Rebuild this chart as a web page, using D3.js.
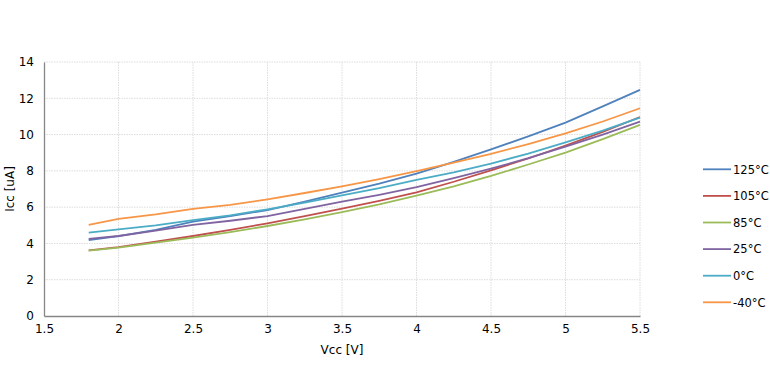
<!DOCTYPE html>
<html><head><meta charset="utf-8">
<script src="https://cdn.jsdelivr.net/npm/d3@7"></script>
<style>body{margin:0;background:#fff}svg{display:block}text{font-family:Tahoma,"DejaVu Sans",sans-serif}</style>
</head><body>
<script>
const vcc = [1.8, 2.0, 2.25, 2.5, 2.75, 3.0, 3.25, 3.5, 3.75, 4.0, 4.25, 4.5, 4.75, 5.0, 5.25, 5.5];
const seriesNames = ["125°C", "105°C", "85°C", "25°C", "0°C", "-40°C"];
const seriesColors = ["#4F81BD", "#C0504D", "#9BBB59", "#8064A2", "#4BACC6", "#F79646"];
const icc125 = [4.18, 4.40, 4.75, 5.20, 5.50, 5.84, 6.30, 6.80, 7.30, 7.85, 8.50, 9.18, 9.90, 10.66, 11.55, 12.46];
const icc105 = [3.62, 3.80, 4.10, 4.41, 4.75, 5.11, 5.50, 5.92, 6.35, 6.82, 7.40, 8.03, 8.68, 9.39, 10.15, 10.97];
const icc85  = [3.60, 3.77, 4.05, 4.32, 4.62, 4.96, 5.33, 5.73, 6.15, 6.63, 7.15, 7.72, 8.35, 9.00, 9.75, 10.53];
const icc25  = [4.25, 4.41, 4.70, 5.02, 5.25, 5.51, 5.90, 6.30, 6.68, 7.10, 7.60, 8.12, 8.70, 9.33, 10.00, 10.71];
const icc0   = [4.59, 4.78, 5.00, 5.29, 5.55, 5.88, 6.25, 6.65, 7.05, 7.50, 7.92, 8.40, 8.95, 9.57, 10.22, 10.93];
const iccM40 = [5.02, 5.35, 5.60, 5.90, 6.12, 6.43, 6.78, 7.15, 7.55, 7.98, 8.45, 8.93, 9.48, 10.07, 10.72, 11.45];
const xTicks = [1.5, 2, 2.5, 3, 3.5, 4, 4.5, 5, 5.5];
const yTicks = [0, 2, 4, 6, 8, 10, 12, 14];

const seriesValues = [icc125, icc105, icc85, icc25, icc0, iccM40];
const W = 770, H = 376;
const m = {left: 44, right: 130, top: 62, bottom: 60};
const svg = d3.select("body").append("svg").attr("width", W).attr("height", H);
const x = d3.scaleLinear().domain([1.5, 5.5]).range([m.left, W - m.right]);
const y = d3.scaleLinear().domain([0, 14]).range([H - m.bottom, m.top]);

// gridlines
const g = svg.append("g");
g.selectAll("line.h").data(yTicks.slice(1)).join("line")
  .attr("x1", x(1.5)).attr("x2", x(5.5)).attr("y1", d => y(d)).attr("y2", d => y(d))
  .attr("stroke", "#dcdcdc").attr("stroke-dasharray", "1.5,1");
g.selectAll("line.v").data(xTicks.slice(1)).join("line")
  .attr("y1", y(0)).attr("y2", y(14)).attr("x1", d => x(d)).attr("x2", d => x(d))
  .attr("stroke", "#dcdcdc").attr("stroke-dasharray", "1.5,1");

// axes
const xAxis = svg.append("g").attr("transform", `translate(0,${y(0)})`)
  .call(d3.axisBottom(x).tickValues(xTicks).tickSize(0).tickPadding(8).tickFormat(d3.format("")));
const yAxis = svg.append("g").attr("transform", `translate(${x(1.5)},0)`)
  .call(d3.axisLeft(y).tickValues(yTicks).tickSize(0).tickPadding(10));
[xAxis, yAxis].forEach(a => {
  a.select(".domain").attr("stroke", "#868686").attr("stroke-width", 1.3);
  a.selectAll("text").attr("font-size", 12).attr("fill", "#000")
   .attr("font-family", 'Tahoma,"DejaVu Sans",sans-serif');
});

// lines
const line = d3.line().x((d, i) => x(vcc[i])).y(d => y(d));
svg.append("g").selectAll("path").data(seriesValues).join("path")
  .attr("d", d => line(d)).attr("fill", "none")
  .attr("stroke", (d, i) => seriesColors[i]).attr("stroke-width", 1.8);

// axis titles
svg.append("text").attr("x", x(3.5)).attr("y", 354).attr("text-anchor", "middle")
  .attr("font-size", 12).text("Vcc [V]");
svg.append("text").attr("transform", `translate(14,${y(7)}) rotate(-90)`)
  .attr("text-anchor", "middle").attr("font-size", 12).text("Icc [uA]");

// legend
const leg = svg.append("g");
seriesNames.forEach((n, i) => {
  const yy = 169.3 + i * 26.6;
  leg.append("line").attr("x1", 703).attr("x2", 731).attr("y1", yy).attr("y2", yy)
    .attr("stroke", seriesColors[i]).attr("stroke-width", 1.8);
  leg.append("text").attr("x", 733).attr("y", yy + 4.3).attr("font-size", 11.5)
    .attr("font-family", '"Liberation Sans",Arial,sans-serif').text(n);
});
</script>
</body></html>
